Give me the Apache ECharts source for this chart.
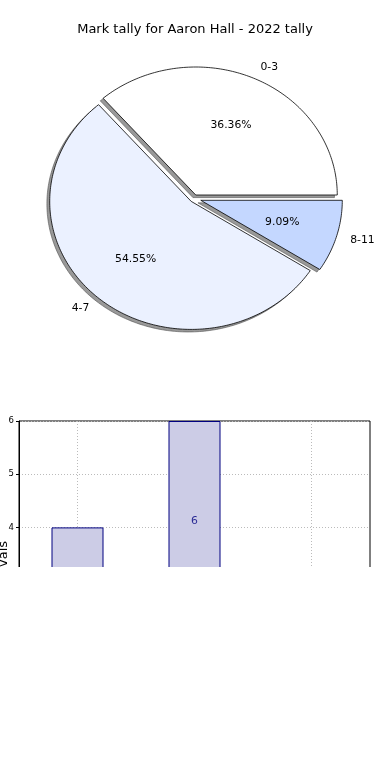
<!DOCTYPE html>
<html><head><meta charset="utf-8">
<script src="https://cdn.jsdelivr.net/npm/echarts@6/dist/echarts.min.js"></script>
<style>html,body{margin:0;padding:0;background:#fff;}
#clip{width:390px;height:567px;overflow:hidden;}
#chart{width:390px;height:780px;}
</style></head><body>
<div id="clip"><div id="chart"></div></div>
<script>
const chartTitle = 'Mark tally for Aaron Hall - 2022 tally';
const categories = ['0-3', '4-7', '8-11'];
const tallies = [4, 6, 1];
const sliceColors = ['#ffffff', '#ebf1ff', '#c4d7ff'];
const explode = [0.03, 0.03, 0.05];
const yAxisName = 'vals';

const FONT = 'DejaVu Sans';
const total = tallies.reduce((a, b) => a + b, 0);
const starts = [];
(function () { let acc = 0; tallies.forEach(v => { starts.push(acc / total * 360); acc += v; }); })();

function geom(i) {
  const a1 = starts[i], a2 = a1 + tallies[i] / total * 360;
  const mid = (a1 + a2) / 2 * Math.PI / 180;
  return { a1, a2, mid, ex: explode[i] * Math.cos(mid), ey: explode[i] * Math.sin(mid) };
}
function wedgePoints(api, i, dx, dy) {
  const g = geom(i);
  const pts = [api.coord([g.ex + dx, g.ey + dy])];
  const n = Math.max(8, Math.ceil(g.a2 - g.a1));
  for (let k = 0; k <= n; k++) {
    const t = (g.a1 + (g.a2 - g.a1) * k / n) * Math.PI / 180;
    pts.push(api.coord([g.ex + dx + Math.cos(t), g.ey + dy + Math.sin(t)]));
  }
  return pts;
}

const chart = echarts.init(document.getElementById('chart'), null, { renderer: 'canvas' });
chart.setOption({
  animation: false,
  backgroundColor: '#fff',
  textStyle: { fontFamily: FONT },
  title: {
    text: chartTitle, left: 'center', top: 22, padding: 0,
    textStyle: { fontFamily: FONT, fontSize: 13, fontWeight: 'normal', color: '#000', lineHeight: 16 }
  },
  grid: [
    { left: 52.5, top: 70.5, width: 283, height: 256, show: false, outerBoundsMode: 'none', containLabel: false },
    { left: 19, top: 421, width: 351, height: 266, show: true, borderColor: '#000', borderWidth: 1, backgroundColor: 'transparent', outerBoundsMode: 'none', containLabel: false }
  ],
  xAxis: [
    { gridIndex: 0, type: 'value', min: -1, max: 1, show: false },
    {
      gridIndex: 1, type: 'category', data: categories,
      axisLine: { lineStyle: { color: '#000' } },
      axisTick: { alignWithLabel: true, lineStyle: { color: '#000' } },
      axisLabel: { color: '#000', fontSize: 8.5 },
      splitLine: { show: true, alignWithLabel: true, lineStyle: { color: '#bbbbbb', type: [1, 2] } }
    }
  ],
  yAxis: [
    { gridIndex: 0, type: 'value', min: -1, max: 1, show: false },
    {
      gridIndex: 1, type: 'value', min: 1, max: 6, interval: 1,
      name: yAxisName, nameLocation: 'middle', nameGap: 9, nameMoveOverlap: false,
      nameTextStyle: { color: '#000', fontSize: 13, fontFamily: FONT },
      axisLine: { show: true, lineStyle: { color: '#000' } },
      axisTick: { show: true, length: 3, lineStyle: { color: '#000' } },
      axisLabel: { color: '#000', fontSize: 8.5, margin: 5 },
      splitLine: { show: true, lineStyle: { color: '#bbbbbb', type: [1, 2] } }
    }
  ],
  series: [
    {
      type: 'custom', xAxisIndex: 0, yAxisIndex: 0, z: 1,
      data: tallies.map((v, i) => [i, v]),
      renderItem: function (params, api) {
        const i = params.dataIndex;
        return {
          type: 'polygon',
          shape: { points: wedgePoints(api, i, -0.02, -0.02) },
          style: { fill: 'rgba(70,70,70,0.55)', stroke: 'rgba(70,70,70,0.55)', lineWidth: 1 }
        };
      }
    },
    {
      type: 'custom', xAxisIndex: 0, yAxisIndex: 0, z: 2,
      data: tallies.map((v, i) => [i, v]),
      renderItem: function (params, api) {
        const i = params.dataIndex;
        const g = geom(i);
        const c = Math.cos(g.mid), s = Math.sin(g.mid);
        const lp = api.coord([g.ex + 1.1 * c, g.ey + 1.1 * s]);
        const pp = api.coord([g.ex + 0.6 * c, g.ey + 0.6 * s]);
        const pct = (tallies[i] / total * 100).toFixed(2) + '%';
        return {
          type: 'group',
          children: [
            {
              type: 'polygon',
              shape: { points: wedgePoints(api, i, 0, 0) },
              style: { fill: sliceColors[i], stroke: '#000', lineWidth: 0.8 }
            },
            {
              type: 'text', z2: 10,
              style: { text: categories[i], x: lp[0], y: lp[1], align: c >= 0 ? 'left' : 'right', verticalAlign: 'middle', fill: '#000', font: '10.8px "DejaVu Sans"' }
            },
            {
              type: 'text', z2: 10,
              style: { text: pct, x: pp[0], y: pp[1], align: 'center', verticalAlign: 'middle', fill: '#000', font: '10.8px "DejaVu Sans"' }
            }
          ]
        };
      }
    },
    {
      type: 'bar', xAxisIndex: 1, yAxisIndex: 1, data: tallies, barWidth: 52,
      itemStyle: { color: '#ccccE6', borderColor: '#000080', borderWidth: 1 }
    },
    {
      type: 'scatter', xAxisIndex: 1, yAxisIndex: 1, data: tallies.map(v => v - 2),
      symbolSize: 1, itemStyle: { color: 'rgba(0,0,0,0)' }, z: 5,
      label: {
        show: true, position: 'top', distance: 0, color: '#000080', fontSize: 10.8, fontFamily: FONT,
        formatter: p => String(tallies[p.dataIndex])
      }
    }
  ]
});
</script>
</body></html>
